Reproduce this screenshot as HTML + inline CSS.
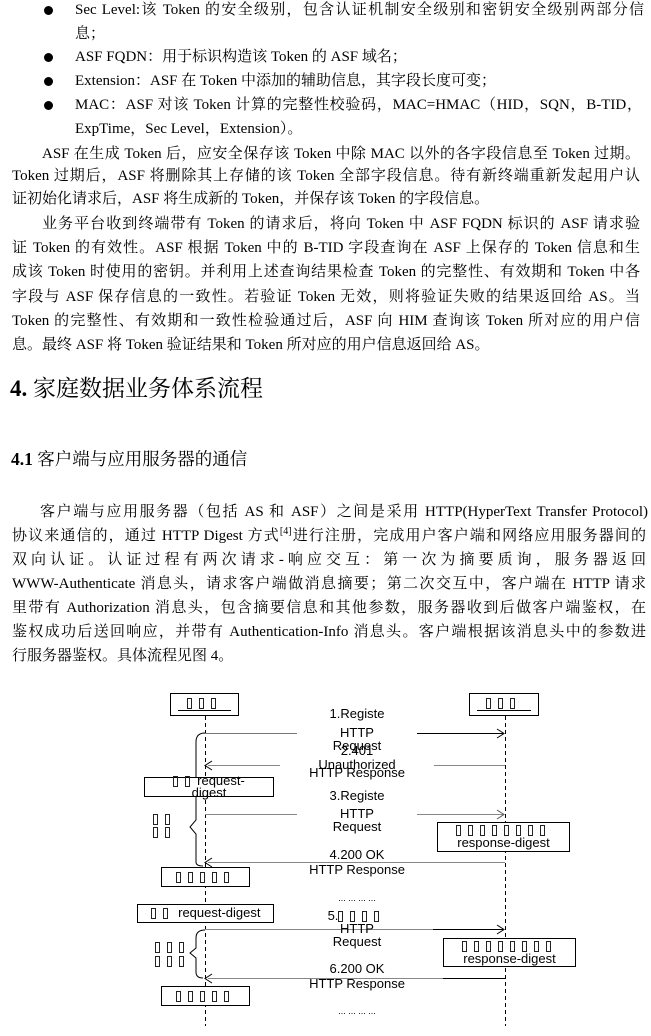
<!DOCTYPE html>
<html><head><meta charset="utf-8"><style>
body{margin:0;width:651px;height:1036px;background:#fff;position:relative;overflow:hidden;font-family:"Liberation Serif","Noto Serif CJK SC",serif;color:#000}
.l{position:absolute;font-size:15px;line-height:20px;height:20px;white-space:nowrap}
.j{text-align:justify;text-align-last:justify;white-space:normal}
.b{position:absolute;width:9px;height:9px;border-radius:50%;background:#000;left:44px}
.d{position:absolute;font-family:"Liberation Sans",sans-serif;font-size:13px;line-height:14px;text-align:center;white-space:nowrap}
.bx{position:absolute;border:1px solid #000;box-sizing:border-box;background:#fff}
.t{display:inline-block;width:3px;height:9px;border:1px solid #222;margin:0 7px 0 0;vertical-align:middle}
</style></head><body>
<div class="b" style="top:6px"></div>
<div class="l j" style="left:75px;width:569px;top:0px">Sec Level:该 Token 的安全级别，包含认证机制安全级别和密钥安全级别两部分信</div>
<div class="l" style="left:75px;top:24px">息；</div>
<div class="b" style="top:53px"></div>
<div class="l" style="left:75px;top:47px">ASF FQDN：用于标识构造该 Token 的 ASF 域名；</div>
<div class="b" style="top:77px"></div>
<div class="l" style="left:75px;top:71px">Extension：ASF 在 Token 中添加的辅助信息，其字段长度可变；</div>
<div class="b" style="top:101px"></div>
<div class="l j" style="left:75px;width:567px;top:95px">MAC：ASF 对该 Token 计算的完整性校验码，MAC=HMAC（HID，SQN，B-TID，</div>
<div class="l" style="left:75px;top:119px">ExpTime，Sec Level，Extension）。</div>
<div class="l j" style="left:42px;width:598px;top:144px">ASF 在生成 Token 后，应安全保存该 Token 中除 MAC 以外的各字段信息至 Token 过期。</div>
<div class="l j" style="left:12px;width:628px;top:166px">Token 过期后，ASF 将删除其上存储的该 Token 全部字段信息。待有新终端重新发起用户认</div>
<div class="l" style="left:12px;top:189px">证初始化请求后，ASF 将生成新的 Token，并保存该 Token 的字段信息。</div>
<div class="l j" style="left:42px;width:598px;top:214px">业务平台收到终端带有 Token 的请求后，将向 Token 中 ASF FQDN 标识的 ASF 请求验</div>
<div class="l j" style="left:12px;width:628px;top:238px">证 Token 的有效性。ASF 根据 Token 中的 B-TID 字段查询在 ASF 上保存的 Token 信息和生</div>
<div class="l j" style="left:12px;width:628px;top:262px">成该 Token 时使用的密钥。并利用上述查询结果检查 Token 的完整性、有效期和 Token 中各</div>
<div class="l j" style="left:12px;width:628px;top:287px">字段与 ASF 保存信息的一致性。若验证 Token 无效，则将验证失败的结果返回给 AS。当</div>
<div class="l j" style="left:12px;width:628px;top:311px">Token 的完整性、有效期和一致性检验通过后，ASF 向 HIM 查询该 Token 所对应的用户信</div>
<div class="l" style="left:12px;top:335px">息。最终 ASF 将 Token 验证结果和 Token 所对应的用户信息返回给 AS。</div>

<div class="l" style="left:10px;top:374px;font-size:23px;line-height:30px;height:30px"><b>4.</b> 家庭数据业务体系流程</div>
<div class="l" style="left:11px;top:447px;font-size:17.5px;line-height:24px;height:24px"><b>4.1</b> 客户端与应用服务器的通信</div>

<div class="l j" style="left:40px;width:608px;top:502px">客户端与应用服务器（包括 AS 和 ASF）之间是采用 HTTP(HyperText Transfer Protocol)</div>
<div class="l j" style="left:12px;width:634px;top:526px">协议来通信的，通过 HTTP Digest 方式<sup style="font-size:10px;line-height:0">[4]</sup>进行注册，完成用户客户端和网络应用服务器间的</div>
<div class="l j" style="left:12px;width:634px;top:550px">双向认证。认证过程有两次请求-响应交互：第一次为摘要质询，服务器返回</div>
<div class="l j" style="left:12px;width:634px;top:574px">WWW-Authenticate 消息头，请求客户端做消息摘要；第二次交互中，客户端在 HTTP 请求</div>
<div class="l j" style="left:12px;width:634px;top:598px">里带有 Authorization 消息头，包含摘要信息和其他参数，服务器收到后做客户端鉴权，在</div>
<div class="l j" style="left:12px;width:634px;top:622px">鉴权成功后送回响应，并带有 Authentication-Info 消息头。客户端根据该消息头中的参数进</div>
<div class="l" style="left:12px;top:646px">行服务器鉴权。具体流程见图 4。</div>

<svg style="position:absolute;left:0;top:0" width="651" height="1036">
<g fill="none" stroke="#000" stroke-width="1">
<line x1="205.5" y1="716" x2="205.5" y2="1026" stroke-dasharray="4,3"/>
<line x1="505.5" y1="716" x2="505.5" y2="1026" stroke-dasharray="4,3"/>
<rect x="170.5" y="693.5" width="68" height="22"/>
<rect x="469.5" y="693.5" width="69" height="22"/>
<line x1="178" y1="710.5" x2="231" y2="710.5"/>
<line x1="477" y1="710.5" x2="531" y2="710.5"/>
<line x1="205" y1="733.5" x2="503" y2="733.5" stroke="#777"/>
<line x1="386" y1="733.5" x2="503" y2="733.5"/>
<path d="M497 729 L504 733.5 L497 738"/>
<line x1="208" y1="765.5" x2="505" y2="765.5" stroke="#888"/>
<path d="M212 761 L205 765.5 L212 770"/>
<line x1="205" y1="814.5" x2="503" y2="814.5" stroke="#888"/>
<path d="M497 810 L504 814.5 L497 819" stroke="#555"/>
<line x1="208" y1="862.5" x2="505" y2="862.5" stroke="#888"/>
<path d="M212 858 L205 862.5 L212 867"/>
<line x1="205" y1="929.5" x2="503" y2="929.5" stroke="#888"/>
<line x1="433" y1="929.5" x2="503" y2="929.5"/>
<path d="M497 925 L504 929.5 L497 934"/>
<line x1="208" y1="978.5" x2="505" y2="978.5" stroke="#888"/>
<line x1="443" y1="978.5" x2="505" y2="978.5"/>
<path d="M212 974 L205 978.5 L212 983"/>
<path d="M205 733 Q196 733 196 742 L196 820 L190 827 L196 834 L196 862 Q196 866 203 866"/>
<path d="M205 930 Q196 930 196 938 L196 948 L190 953 L196 958 L196 972 Q196 978 203 978"/>
</g>
</svg>
<div class="d" style="left:172px;top:696px;width:66px"><span class="t"></span><span class="t"></span><span class="t"></span></div>
<div class="d" style="left:471px;top:696px;width:66px"><span class="t"></span><span class="t"></span><span class="t"></span></div>
<div class="d" style="left:297px;top:707px;width:120px">1.Registe</div>
<div class="d" style="left:297px;top:726px;width:120px;background:#fff">HTTP</div>
<div class="d" style="left:297px;top:739px;width:120px">Request</div>
<div class="d" style="left:297px;top:744px;width:120px">2.401</div>
<div class="d" style="left:280px;top:758px;width:154px;background:#fff">Unauthorized</div>
<div class="d" style="left:280px;top:766px;width:154px">HTTP Response</div>
<div class="bx" style="left:144px;top:777px;width:130px;height:20px"></div>
<div class="d" style="left:146px;top:774px;width:126px"><span class="t"></span><span class="t"></span>request-</div>
<div class="d" style="left:146px;top:786px;width:126px">digest</div>
<div class="d" style="left:297px;top:789px;width:120px">3.Registe</div>
<div class="d" style="left:297px;top:807px;width:120px;background:#fff">HTTP</div>
<div class="d" style="left:297px;top:820px;width:120px">Request</div>
<div class="d" style="left:150px;top:812px;width:30px"><span class="t"></span><span class="t"></span></div>
<div class="d" style="left:150px;top:825px;width:30px"><span class="t"></span><span class="t"></span></div>
<div class="bx" style="left:437px;top:822px;width:133px;height:30px"></div>
<div class="d" style="left:437px;top:823px;width:133px"><span class="t"></span><span class="t"></span><span class="t"></span><span class="t"></span><span class="t"></span><span class="t"></span><span class="t"></span><span class="t"></span></div>
<div class="d" style="left:437px;top:836px;width:133px">response-digest</div>
<div class="d" style="left:297px;top:848px;width:120px">4.200 OK</div>
<div class="d" style="left:280px;top:863px;width:154px">HTTP Response</div>
<div class="bx" style="left:161px;top:867px;width:89px;height:20px"></div>
<div class="d" style="left:161px;top:870px;width:89px"><span class="t"></span><span class="t"></span><span class="t"></span><span class="t"></span><span class="t"></span></div>
<div class="d" style="left:297px;top:891px;width:120px;font-size:9px">... ... ... ...</div>
<div class="bx" style="left:137px;top:904px;width:137px;height:19px"></div>
<div class="d" style="left:137px;top:906px;width:137px"><span class="t"></span><span class="t"></span> request-digest</div>
<div class="d" style="left:297px;top:909px;width:120px">5.<span class="t"></span><span class="t"></span><span class="t"></span><span class="t"></span></div>
<div class="d" style="left:297px;top:922px;width:120px">HTTP</div>
<div class="d" style="left:297px;top:935px;width:120px">Request</div>
<div class="d" style="left:150px;top:940px;width:45px"><span class="t"></span><span class="t"></span><span class="t"></span></div>
<div class="d" style="left:150px;top:954px;width:45px"><span class="t"></span><span class="t"></span><span class="t"></span></div>
<div class="bx" style="left:443px;top:938px;width:133px;height:29px"></div>
<div class="d" style="left:443px;top:939px;width:133px"><span class="t"></span><span class="t"></span><span class="t"></span><span class="t"></span><span class="t"></span><span class="t"></span><span class="t"></span><span class="t"></span></div>
<div class="d" style="left:443px;top:952px;width:133px">response-digest</div>
<div class="d" style="left:297px;top:962px;width:120px">6.200 OK</div>
<div class="d" style="left:280px;top:977px;width:154px">HTTP Response</div>
<div class="bx" style="left:161px;top:986px;width:89px;height:20px"></div>
<div class="d" style="left:161px;top:989px;width:89px"><span class="t"></span><span class="t"></span><span class="t"></span><span class="t"></span><span class="t"></span></div>
<div class="d" style="left:297px;top:1004px;width:120px;font-size:9px">... ... ... ...</div>
</body></html>
